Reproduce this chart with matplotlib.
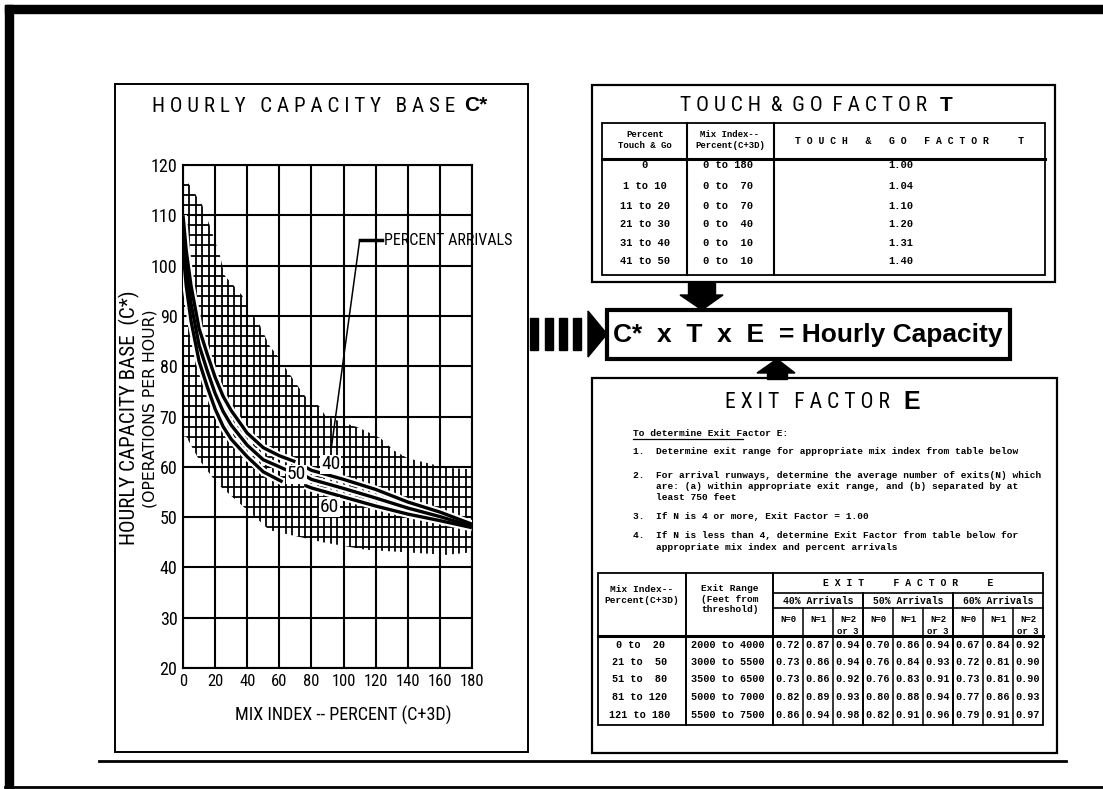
import numpy as np
import matplotlib.pyplot as plt
from matplotlib import font_manager as fm
from matplotlib.patches import Rectangle, Polygon

# ---- hourly capacity chart ----
mix_ticks = [0, 20, 40, 60, 80, 100, 120, 140, 160, 180]
cap_ticks = [20, 30, 40, 50, 60, 70, 80, 90, 100, 110, 120]

# cross-hatched band around the curves
band_top_x = [0, 2, 12, 16, 23, 26, 37, 40, 48, 54, 60, 66, 76, 85, 89, 110, 123, 131, 140, 164, 180]
band_top_y = [117, 117, 112, 108.5, 102, 98, 94, 92, 88, 84, 81.6, 78.6, 74, 72, 70, 67.7, 65.7, 63.3, 61.7, 59.8, 59.5]
band_bot_x = [180, 164, 114, 87, 54, 40, 21, 10, 2, 0]
band_bot_y = [43, 42.5, 43.5, 45, 47.4, 51.4, 56.8, 61.4, 66, 66]

# percent arrivals curves, broken where the "50" label sits
c40_xa = [0, 2, 5, 10, 15, 20, 25, 30, 40, 50, 60, 70]
c40_ya = [110, 103, 96, 87.5, 82.5, 77.8, 74, 71.2, 66.7, 63.8, 62.2, 61]
c50_xa = [0, 2, 5, 10, 15, 20, 25, 30, 40, 50, 65]
c50_ya = [106.5, 99.5, 92.5, 84.2, 79.2, 74.6, 71, 68.3, 64.3, 61.4, 59.3]
c60_xa = [0, 2, 5, 10, 15, 20, 25, 30, 40, 50, 62]
c60_ya = [103, 96, 89, 81, 76, 71.5, 68, 65.5, 62, 59, 57]
right_x = [76, 80, 100, 120, 140, 160, 180]
c40_yb = [60, 59.3, 57.5, 55.5, 53, 51, 48.6]
c50_yb = [58.2, 57.5, 55.7, 53.8, 51.8, 50.1, 48.2]
c60_yb = [56.3, 55.8, 54, 52.2, 50.6, 49.3, 47.9]

# ---- touch & go table ----
tg_percent = ["0", "1 to 10", "11 to 20", "21 to 30", "31 to 40", "41 to 50"]
tg_mix = ["0 to 180", "0 to  70", "0 to  70", "0 to  40", "0 to  10", "0 to  10"]
tg_factor = [1.00, 1.04, 1.10, 1.20, 1.31, 1.40]

# ---- exit factor table ----
ex_mix = ["0 to  20", "21 to  50", "51 to  80", "81 to 120", "121 to 180"]
ex_range = ["2000 to 4000", "3000 to 5500", "3500 to 6500", "5000 to 7000", "5500 to 7500"]
ex_arr40 = [[0.72, 0.87, 0.94], [0.73, 0.86, 0.94], [0.73, 0.86, 0.92], [0.82, 0.89, 0.93], [0.86, 0.94, 0.98]]
ex_arr50 = [[0.70, 0.86, 0.94], [0.76, 0.84, 0.93], [0.76, 0.83, 0.91], [0.80, 0.88, 0.94], [0.82, 0.91, 0.96]]
ex_arr60 = [[0.67, 0.84, 0.92], [0.72, 0.81, 0.90], [0.73, 0.81, 0.90], [0.77, 0.86, 0.93], [0.79, 0.91, 0.97]]

steps = [
    "1.  Determine exit range for appropriate mix index from table below",
    "2.  For arrival runways, determine the average number of exits(N) which",
    "    are: (a) within appropriate exit range, and (b) separated by at",
    "    least 750 feet",
    "3.  If N is 4 or more, Exit Factor = 1.00",
    "4.  If N is less than 4, determine Exit Factor from table below for",
    "    appropriate mix index and percent arrivals",
]

# pick a narrow sans if one is installed
installed = {f.name for f in fm.fontManager.ttflist}
narrow_name = "Liberation Sans"
for cand in ["Liberation Sans Narrow", "Roboto Condensed", "DejaVu Sans Condensed", "Open Sans Condensed"]:
    if cand in installed:
        narrow_name = cand
        break
NARROW = [narrow_name, "DejaVu Sans"]
MONO = ["Liberation Mono", "DejaVu Sans Mono"]
BOLD = ["Liberation Sans", "DejaVu Sans"]


def spaced(s):
    return " ".join(s)


W, H = 1103, 789
fig = plt.figure(figsize=(W / 100, H / 100), dpi=100)


def fit(t, length):
    # scale a text's font so its long side spans `length` pixels
    fig.canvas.draw()
    bb = t.get_window_extent(fig.canvas.get_renderer())
    t.set_fontsize(t.get_fontsize() * length / max(bb.width, bb.height))


ov = fig.add_axes([0, 0, 1, 1], zorder=0)
ov.set_xlim(0, W)
ov.set_ylim(H, 0)
ov.axis("off")

# outer frame
ov.add_patch(Rectangle((5, 5), 8, 784, color="k"))
ov.add_patch(Rectangle((5, 5), W - 5, 8, color="k"))
ov.plot([5, W], [787, 787], color="k", lw=2)
ov.plot([99, 1066], [761, 761], color="k", lw=2)

# ---------------- left panel ----------------
ov.add_patch(Rectangle((115, 84), 413, 668, fill=False, lw=1.4, ec="k"))
t_title = ov.text(152, 106, spaced("HOURLY") + "   " + spaced("CAPACITY") + "   " + spaced("BASE"),
                  ha="left", va="center", fontsize=13, family=NARROW)
ov.text(464, 105, "C*", ha="left", va="center", fontsize=15, weight="bold", family=BOLD)
t_ylab = ov.text(129, 418, "HOURLY CAPACITY BASE  (C*)", rotation=90, ha="center", va="center",
                 fontsize=14, family=NARROW)
t_ylab2 = ov.text(150, 409, "(OPERATIONS PER HOUR)", rotation=90, ha="center", va="center",
                  fontsize=9.5, family=["DejaVu Sans"])
t_xlab = ov.text(343, 715, "MIX INDEX -- PERCENT (C+3D)", ha="center", va="center",
                 fontsize=14, family=NARROW)

ax = fig.add_axes([183 / W, 1 - 668 / H, 289 / W, 503 / H], zorder=2)
ax.set_xlim(0, 180)
ax.set_ylim(20, 120)
ax.set_xticks(mix_ticks)
ax.set_yticks(cap_ticks)
ax.grid(True, color="k", lw=1.5)
ax.set_axisbelow(False)
for sp in ax.spines.values():
    sp.set_linewidth(1.5)
ax.tick_params(length=0, pad=4)
for lab in ax.get_yticklabels():
    lab.set_fontfamily(NARROW)
    lab.set_fontsize(13)
for lab in ax.get_xticklabels():
    lab.set_fontfamily(NARROW)
    lab.set_fontsize(12)

band = Polygon(list(zip(band_top_x, band_top_y)) + list(zip(band_bot_x, band_bot_y)),
               closed=True, fill=False, lw=0)
ax.add_patch(band)
hl = ax.hlines(np.arange(20, 120, 2), 0, 180, color="k", lw=1.3)
vl = ax.vlines(np.arange(0, 181, 4), 20, 120, color="k", lw=1.3)
hl.set_clip_path(band)
vl.set_clip_path(band)

segs = [(c40_xa, c40_ya), (c50_xa, c50_ya), (c60_xa, c60_ya),
        (right_x, c40_yb), (right_x, c50_yb), (right_x, c60_yb)]
for xs, ys in segs:
    ax.plot(xs, ys, color="white", lw=5.5, solid_capstyle="butt", zorder=3)
for xs, ys in segs:
    ax.plot(xs, ys, color="k", lw=2.4, solid_capstyle="butt", zorder=4)

lab_kw = dict(ha="center", va="center", fontsize=14, family=NARROW, zorder=5,
              bbox=dict(fc="white", ec="none", pad=0.5))
ax.text(70.5, 58.5, "50", **lab_kw)
ax.text(92, 60.5, "40", **lab_kw)
ax.text(91, 52, "60", **lab_kw)
ax.plot([92.5, 110], [64, 105], color="k", lw=1.1, zorder=5, clip_on=False)
ax.plot([110, 124], [105, 105], color="k", lw=2.5, zorder=5, clip_on=False)
t_pa = ax.text(125, 105, "PERCENT ARRIVALS", ha="left", va="center", fontsize=12,
               family=NARROW, clip_on=False, zorder=6)

# ---------------- touch & go ----------------
ov.add_patch(Rectangle((592, 85), 463, 197, fill=False, lw=1.6, ec="k"))
t_tg = ov.text(680, 105, spaced("TOUCH") + "  &  " + spaced("GO") + "  " + spaced("FACTOR"),
               ha="left", va="center", fontsize=13, family=NARROW)
ov.text(946, 105, "T", ha="center", va="center", fontsize=15, weight="bold", family=BOLD)
ov.add_patch(Rectangle((602, 123), 443, 152, fill=False, lw=1.3, ec="k"))
ov.plot([602, 1045], [159, 159], color="k", lw=2.2)
ov.plot([687, 687], [123, 275], color="k", lw=1.5)
ov.plot([774, 774], [123, 275], color="k", lw=1.5)
mono_b = dict(family=MONO, weight="bold", ha="center", va="center")
ov.text(645, 140, "Percent\nTouch & Go", fontsize=6.5, linespacing=1.2, **mono_b)
ov.text(730, 140, "Mix Index--\nPercent(C+3D)", fontsize=6.5, linespacing=1.2, **mono_b)
ov.text(910, 141, "T O U C H   &   G O   F A C T O R     T", fontsize=7, **mono_b)
tg_y = [165, 186, 205.5, 224, 242.5, 260.5]
for yy, p, m, f in zip(tg_y, tg_percent, tg_mix, tg_factor):
    ov.text(645, yy, p, fontsize=7.5, **mono_b)
    ov.text(728, yy, m, fontsize=7.5, **mono_b)
    ov.text(901, yy, f"{f:.2f}", fontsize=7.5, **mono_b)

# arrow down, formula box, arrow up, dashed arrow from the left
ov.add_patch(Rectangle((688, 283), 27, 12, color="k"))
ov.add_patch(Polygon([(680, 295), (723, 295), (702, 310)], color="k"))
ov.add_patch(Rectangle((607, 310), 403, 49, fill=False, lw=3, ec="k"))
ov.text(808, 335, "C*  x  T  x  E  = Hourly Capacity", ha="center", va="center",
        fontsize=19, weight="bold", family=BOLD)
ov.add_patch(Polygon([(757, 373), (795, 373), (777, 359)], color="k"))
ov.add_patch(Rectangle((767, 372), 20, 7, color="k"))
for bx in [530, 545, 559, 573]:
    ov.add_patch(Rectangle((bx, 318), 8, 32, color="k"))
ov.add_patch(Polygon([(588, 311), (588, 357), (607, 334)], color="k"))

# ---------------- exit factor ----------------
ov.add_patch(Rectangle((592, 378), 465, 375, fill=False, lw=1.6, ec="k"))
t_ex = ov.text(725, 402, spaced("EXIT") + "   " + spaced("FACTOR"), ha="left", va="center",
               fontsize=16, family=NARROW)
ov.text(912, 402, "E", ha="center", va="center", fontsize=18, weight="bold", family=BOLD)
ov.text(633, 433, "To determine Exit Factor E:", ha="left", va="center", fontsize=6.8,
        family=MONO, weight="bold")
ov.plot([633, 743], [439, 439], color="k", lw=0.9)
step_y = [451.7, 475, 486.7, 497.3, 516.7, 535, 547.7]
for yy, s in zip(step_y, steps):
    ov.text(633, yy, s, ha="left", va="center", fontsize=6.8, family=MONO, weight="bold")

ov.add_patch(Rectangle((598, 573), 445, 152, fill=False, lw=1.3, ec="k"))
ov.plot([598, 1043], [636, 636], color="k", lw=2.2)
for xx in [686, 773]:
    ov.plot([xx, xx], [573, 725], color="k", lw=1.4)
ov.plot([773, 1043], [593, 593], color="k", lw=1.2)
ov.plot([773, 1043], [608, 608], color="k", lw=1.2)
for xx in [863, 953]:
    ov.plot([xx, xx], [593, 725], color="k", lw=1.4)
for xx in [803, 833, 893, 923, 983, 1013]:
    ov.plot([xx, xx], [608, 725], color="k", lw=1.1)

ov.text(642, 595, "Mix Index--\nPercent(C+3D)", fontsize=6.8, linespacing=1.4, **mono_b)
ov.text(730, 599, "Exit Range\n(Feet from\nthreshold)", fontsize=6.8, linespacing=1.2, **mono_b)
ov.text(908, 583, "E X I T     F A C T O R     E", fontsize=7, **mono_b)
group_x = [773, 863, 953]
for gx, pct in zip(group_x, ["40%", "50%", "60%"]):
    ov.text(gx + 45, 600.5, pct + " Arrivals", fontsize=7, **mono_b)
    for k, nl in enumerate(["N=0", "N=1", "N=2"]):
        ov.text(gx + 15 + 30 * k, 620, nl, fontsize=6.5, **mono_b)
    ov.text(gx + 75, 631, "or 3", fontsize=6.5, **mono_b)

ex_y = [645, 662, 679, 697, 715]
for r, yy in enumerate(ex_y):
    ov.text(640, yy, ex_mix[r], fontsize=7.3, **mono_b)
    ov.text(728, yy, ex_range[r], fontsize=7.3, **mono_b)
    for gx, vals in zip(group_x, [ex_arr40, ex_arr50, ex_arr60]):
        for k in range(3):
            ov.text(gx + 15 + 30 * k, yy, f"{vals[r][k]:.2f}", fontsize=7.3, **mono_b)

# match the widths of the spaced titles and axis labels seen in the scan
fit(t_title, 300)
fit(t_tg, 247)
fit(t_ex, 165)
fit(t_pa, 128)
fit(t_xlab, 219)
fit(t_ylab, 255)
fit(t_ylab2, 200)

fig.savefig("out.png", dpi=100, facecolor="white")
